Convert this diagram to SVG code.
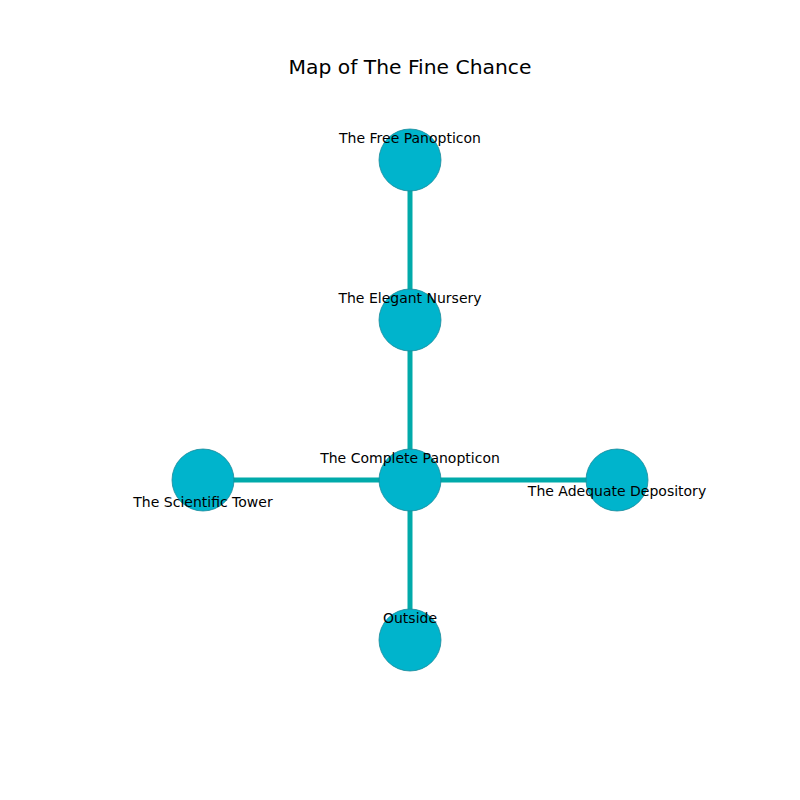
<svg xmlns="http://www.w3.org/2000/svg" width="800" height="800" viewBox="0 0 800 800">
  <style>
    .edge { stroke: #00aaaa; stroke-width: 5; fill: none; }
    .node circle { fill: #00b4cc; stroke: #1a8a9a; stroke-width: 0.8; }
    .label { font-family: "DejaVu Sans", sans-serif; font-size: 14px; fill: #000; text-anchor: middle; }
    .title { font-family: "DejaVu Sans", sans-serif; font-size: 20.3px; fill: #000; text-anchor: middle; }
  </style>
  <rect width="800" height="800" fill="#fff"/>
  <text class="title" x="410" y="74">Map of The Fine Chance</text>
  <g id="connectors">
    <line class="edge" x1="410" y1="160" x2="410" y2="320"/>
    <line class="edge" x1="410" y1="320" x2="410" y2="480"/>
    <line class="edge" x1="203" y1="480" x2="410" y2="480"/>
    <line class="edge" x1="410" y1="480" x2="617" y2="480"/>
    <line class="edge" x1="410" y1="480" x2="410" y2="640"/>
  </g>
  <g id="free-panopticon" class="node">
    <circle cx="410" cy="160" r="31"/>
    <text class="label" x="410" y="143">The Free Panopticon</text>
  </g>
  <g id="elegant-nursery" class="node">
    <circle cx="410" cy="320" r="31"/>
    <text class="label" x="410" y="303">The Elegant Nursery</text>
  </g>
  <g id="complete-panopticon" class="node">
    <circle cx="410" cy="480" r="31"/>
    <text class="label" x="410" y="463">The Complete Panopticon</text>
  </g>
  <g id="scientific-tower" class="node">
    <circle cx="203" cy="480" r="31"/>
    <text class="label" x="203" y="507">The Scientific Tower</text>
  </g>
  <g id="adequate-depository" class="node">
    <circle cx="617" cy="480" r="31"/>
    <text class="label" x="617" y="496">The Adequate Depository</text>
  </g>
  <g id="outside" class="node">
    <circle cx="410" cy="640" r="31"/>
    <text class="label" x="410" y="623">Outside</text>
  </g>
</svg>
